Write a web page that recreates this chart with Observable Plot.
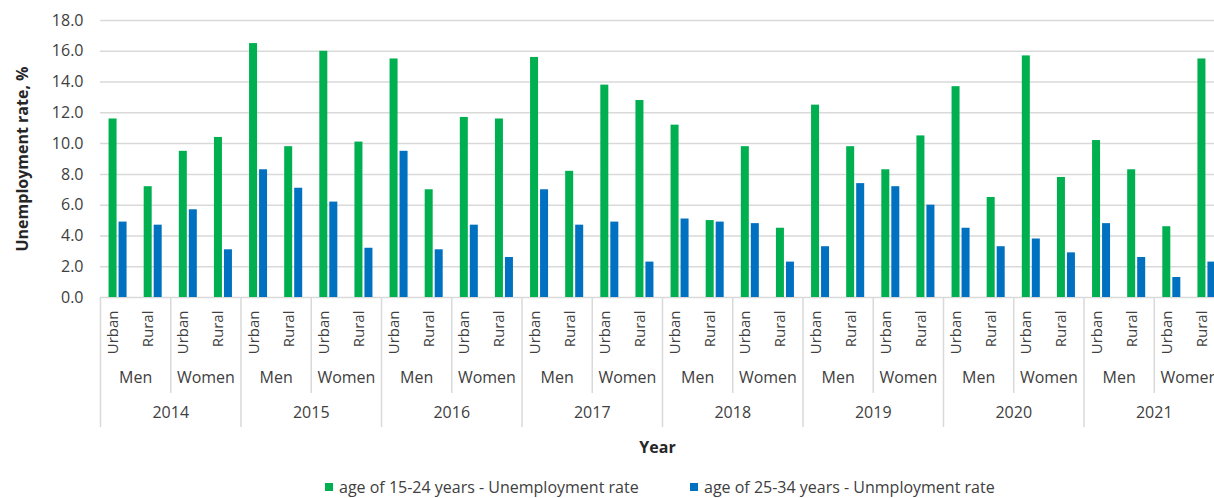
<!DOCTYPE html>
<html>
<head>
<meta charset="utf-8">
<script src="https://cdn.jsdelivr.net/npm/d3@7"></script>
<script src="https://cdn.jsdelivr.net/npm/@observablehq/plot@0.6"></script>
<style>
  html, body { margin: 0; padding: 0; background: #fff; overflow: hidden; width: 1214px; height: 498px; }
  #chart svg { max-width: none !important; display: block; }
  .legend { position: absolute; top: 476px; left: 0; font-family: "Open Sans", sans-serif; font-size: 16px; color: #404040; white-space: nowrap; }
  .legend span.item { position: absolute; top: 0; display: flex; align-items: center; }
  .legend i { display: inline-block; width: 8px; height: 8px; margin-right: 6px; }
</style>
</head>
<body>
<div id="chart"></div>
<div class="legend">
  <span class="item" style="left:325px"><i style="background:#00B050"></i>age of 15-24 years - Unemployment rate</span>
  <span class="item" style="left:690px"><i style="background:#0070C0"></i>age of 25-34 years - Unmployment rate</span>
</div>
<script>
const years = ["2014", "2015", "2016", "2017", "2018", "2019", "2020", "2021"];
const sexes = ["Men", "Women"];
const places = ["Urban", "Rural"];
// order: year -> sex -> place
const age1524 = [
  11.6, 7.2, 9.5, 10.4,
  16.5, 9.8, 16.0, 10.1,
  15.5, 7.0, 11.7, 11.6,
  15.6, 8.2, 13.8, 12.8,
  11.2, 5.0, 9.8, 4.5,
  12.5, 9.8, 8.3, 10.5,
  13.7, 6.5, 15.7, 7.8,
  10.2, 8.3, 4.6, 15.5
];
const age2534 = [
  4.9, 4.7, 5.7, 3.1,
  8.3, 7.1, 6.2, 3.2,
  9.5, 3.1, 4.7, 2.6,
  7.0, 4.7, 4.9, 2.3,
  5.1, 4.9, 4.8, 2.3,
  3.3, 7.4, 7.2, 6.0,
  4.5, 3.3, 3.8, 2.9,
  4.8, 2.6, 1.3, 2.3
];
const yTicks = [0, 2, 4, 6, 8, 10, 12, 14, 16, 18];
const yTitle = "Unemployment rate, %";
const xTitle = "Year";

const rows = [];
let i = 0;
for (const year of years) for (const sex of sexes) for (const place of places) {
  rows.push({key: `${year}|${sex}|${place}`, year, sex, place, a: age1524[i], b: age2534[i]});
  i++;
}

const W = 1224, H = 470, mt = 20, mb = 173, ml = 100, mr = 0;
const bw = (W - ml - mr) / rows.length;
const ppu = (H - mt - mb) / 18;
const grid = "#d9d9d9";

const menUrban = rows.filter(d => d.sex === "Men" && d.place === "Urban");
const womenUrban = rows.filter(d => d.sex === "Women" && d.place === "Urban");

const chart = Plot.plot({
  width: W, height: H,
  marginTop: mt, marginBottom: mb, marginLeft: ml, marginRight: mr,
  style: {fontFamily: "Open Sans", fontSize: "16px", color: "#404040", background: "#fff"},
  x: {type: "band", domain: rows.map(d => d.key), padding: 0, round: false, axis: null},
  y: {domain: [0, 18], ticks: yTicks, tickFormat: d => d.toFixed(1), tickSize: 0, tickPadding: 17, label: null},
  marks: [
    Plot.gridY(yTicks, {stroke: grid, strokeOpacity: 1, strokeWidth: 1.5}),
    Plot.barY(rows, {x: "key", y: "a", fill: "#00B050", insetLeft: bw / 2 - 9, insetRight: bw / 2 + 1}),
    Plot.barY(rows, {x: "key", y: "b", fill: "#0070C0", insetLeft: bw / 2 + 1, insetRight: bw / 2 - 9}),
    // separators
    Plot.ruleX(womenUrban, {x: "key", dx: -bw / 2, y1: 0, y2: -96 / ppu, stroke: grid, strokeWidth: 1.5}),
    Plot.ruleX(menUrban, {x: "key", dx: -bw / 2, y1: 0, y2: -130 / ppu, stroke: grid, strokeWidth: 1.5}),
    // category labels
    Plot.text(rows, {x: "key", text: "place", frameAnchor: "bottom", dy: 13, rotate: -90, textAnchor: "end", fontSize: 15, fill: "#404040"}),
    Plot.text(menUrban.concat(womenUrban), {x: "key", text: "sex", frameAnchor: "bottom", dx: bw / 2, dy: 85, fill: "#404040"}),
    Plot.text(womenUrban, {x: "key", text: "year", frameAnchor: "bottom", dx: -bw / 2, dy: 120, fill: "#404040"}),
    Plot.text([xTitle], {frameAnchor: "bottom", dx: -5, dy: 155, fontWeight: "bold", fill: "#262626"}),
    Plot.text([yTitle], {frameAnchor: "left", dx: -78, rotate: -90, textAnchor: "middle", fontWeight: "bold", fill: "#262626"})
  ]
});
chart.style.maxWidth = "none";
document.getElementById("chart").append(chart);
</script>
</body>
</html>
